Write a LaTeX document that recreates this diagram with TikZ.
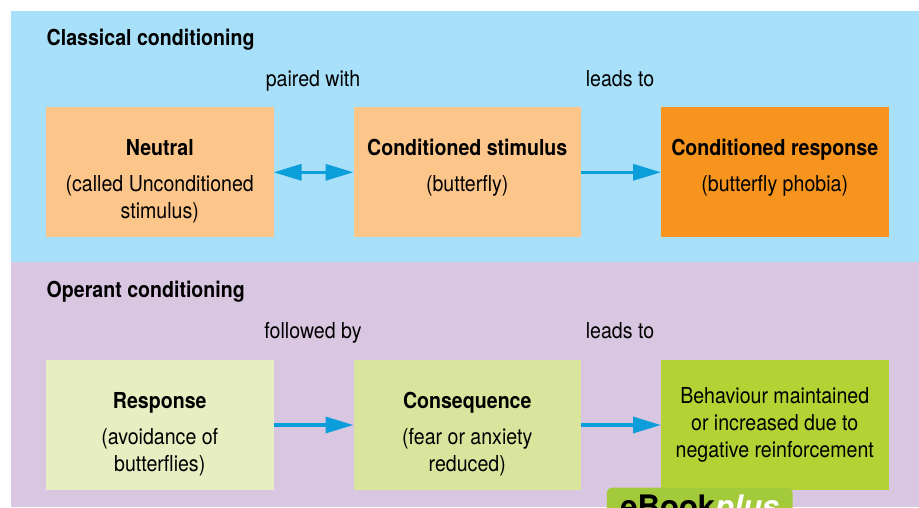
\documentclass[tikz,border=0pt]{standalone}
\usepackage{fontspec}
\setmainfont{TeX Gyre Heros}[FakeStretch=0.89]
\newfontfamily\tabfont{TeX Gyre Heros}
\usetikzlibrary{arrows.meta,positioning}

\definecolor{skyband}{HTML}{A8E0FA}
\definecolor{lilacband}{HTML}{D9C6E1}
\definecolor{peach}{HTML}{FCC68B}
\definecolor{orangebox}{HTML}{F7941E}
\definecolor{palegreen}{HTML}{E6EEC2}
\definecolor{midgreen}{HTML}{D9E59C}
\definecolor{limegreen}{HTML}{B3D335}
\definecolor{arrowblue}{HTML}{0C9DDB}
\definecolor{tabgreen}{HTML}{A3CA3B}

\newcommand{\boxhead}[1]{\rule{0pt}{34.7pt}\textbf{#1}\\[8.5pt]}

\begin{document}
\begin{tikzpicture}[x=1pt, y=-1pt, node distance=80pt, >={Triangle[length=28pt,width=16pt]},
  box/.style={inner sep=0pt, outer sep=0pt, minimum width=227.5pt, minimum height=130pt, text width=227.5pt, align=flush center, font=\fontsize{22}{27.3}\selectfont},
  heading/.style={inner sep=0pt, anchor=base west, font=\fontsize{22}{27.3}\selectfont\bfseries},
  lbl/.style={inner sep=0pt, anchor=base, font=\fontsize{22}{27.3}\selectfont},
  arr/.style={draw=arrowblue, line width=3.3pt}]
\useasboundingbox (0,0) rectangle (919,507);
\fill[white] (0,0) rectangle (919,507);
\fill[skyband] (11,11) rectangle (919,262);
\fill[lilacband] (11,262) rectangle (919,507);

% classical conditioning
\node[heading] (classical) at (46.5,45) {Classical conditioning};
\node[box, fill=peach, anchor=north west] (neutral) at (46,107.3) {\boxhead{Neutral}(called Unconditioned\\stimulus)};
\node[box, fill=peach, right=of neutral] (cs) {\boxhead{Conditioned stimulus}(butterfly)\\\vphantom{)}};
\node[box, fill=orangebox, right=of cs] (cr) {\boxhead{Conditioned response}(butterfly phobia)\\\vphantom{)}};
\draw[arr, <->] (neutral) -- (cs);
\draw[arr, ->] (cs) -- (cr);
\node[lbl] (paired) at (313,86.5) {paired with};
\node[lbl] (leads1) at (620,86.5) {leads to};

% operant conditioning
\node[heading] (operant) at (46.5,297) {Operant conditioning};
\node[box, fill=palegreen, below=122.7pt of neutral] (resp) {\boxhead{Response}(avoidance of\\butterflies)};
\node[box, fill=midgreen, right=of resp] (cons) {\boxhead{Consequence}(fear or anxiety\\reduced)};
\node[box, fill=limegreen, right=of cons] (beh) {Behaviour maintained\\or increased due to\\negative reinforcement};
\draw[arr, ->] (resp) -- (cons);
\draw[arr, ->] (cons) -- (beh);
\node[lbl] (followed) at (313,338.5) {followed by};
\node[lbl] (leads2) at (620,338.5) {leads to};

% eBookplus tab, cut by the page edge
\node[fill=tabgreen, rounded corners=5pt, anchor=north west, inner xsep=12.3pt, inner ysep=7.7pt, minimum width=185.6pt, font=\tabfont\fontsize{31}{31}\selectfont\bfseries] (ebook) at (606.7,487.3) {eBook\textcolor{white}{\itshape plus}};
\end{tikzpicture}
\end{document}
